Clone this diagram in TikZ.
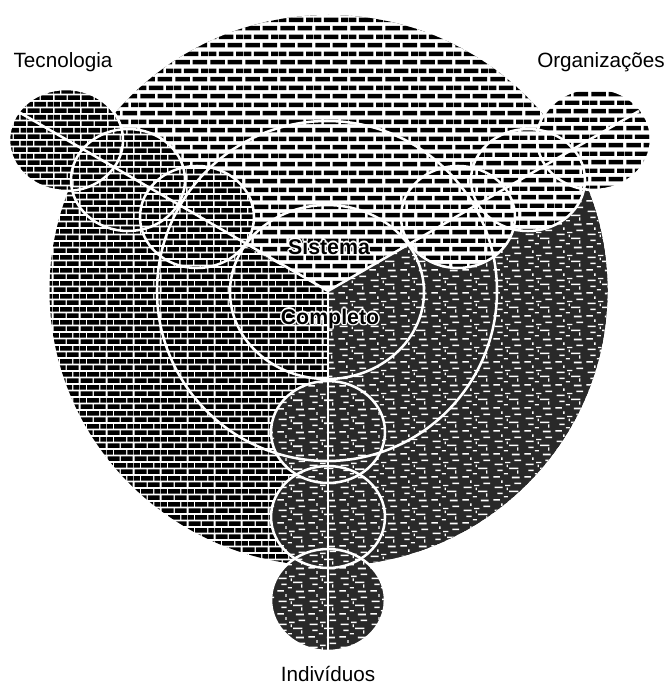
\documentclass[tikz,border=0pt]{standalone}
\usepackage{fontspec}
\setmainfont{Liberation Sans}
\usetikzlibrary{patterns}

\pgfdeclarepatternformonly{brickL}{\pgfpointorigin}{\pgfqpoint{26pt}{13pt}}{\pgfqpoint{26pt}{13pt}}{%
  \pgfpathrectangle{\pgfqpoint{1pt}{0.5pt}}{\pgfqpoint{11pt}{3.4pt}}%
  \pgfpathrectangle{\pgfqpoint{14pt}{0.5pt}}{\pgfqpoint{11pt}{3.4pt}}%
  \pgfpathrectangle{\pgfqpoint{0pt}{7pt}}{\pgfqpoint{5.5pt}{3.4pt}}%
  \pgfpathrectangle{\pgfqpoint{7.5pt}{7pt}}{\pgfqpoint{11pt}{3.4pt}}%
  \pgfpathrectangle{\pgfqpoint{20.5pt}{7pt}}{\pgfqpoint{5.5pt}{3.4pt}}%
  \pgfusepath{fill}}

\pgfdeclarepatternformonly{brickM}{\pgfpointorigin}{\pgfqpoint{20pt}{10pt}}{\pgfqpoint{20pt}{10pt}}{%
  \pgfpathrectangle{\pgfqpoint{0.5pt}{0pt}}{\pgfqpoint{9pt}{3.6pt}}%
  \pgfpathrectangle{\pgfqpoint{10.5pt}{0pt}}{\pgfqpoint{9pt}{3.6pt}}%
  \pgfpathrectangle{\pgfqpoint{0pt}{5pt}}{\pgfqpoint{4.5pt}{3.6pt}}%
  \pgfpathrectangle{\pgfqpoint{5.5pt}{5pt}}{\pgfqpoint{9pt}{3.6pt}}%
  \pgfpathrectangle{\pgfqpoint{15.5pt}{5pt}}{\pgfqpoint{4.5pt}{3.6pt}}%
  \pgfusepath{fill}}

\pgfdeclarepatternformonly{speckD}{\pgfpointorigin}{\pgfqpoint{23pt}{17pt}}{\pgfqpoint{23pt}{17pt}}{%
  \pgfpathrectangle{\pgfqpoint{1pt}{1pt}}{\pgfqpoint{5pt}{1.2pt}}%
  \pgfpathrectangle{\pgfqpoint{9pt}{3.5pt}}{\pgfqpoint{3pt}{1pt}}%
  \pgfpathrectangle{\pgfqpoint{15pt}{0.5pt}}{\pgfqpoint{6pt}{1.3pt}}%
  \pgfpathrectangle{\pgfqpoint{4pt}{6pt}}{\pgfqpoint{4pt}{1.1pt}}%
  \pgfpathrectangle{\pgfqpoint{13pt}{7.5pt}}{\pgfqpoint{7pt}{1.2pt}}%
  \pgfpathrectangle{\pgfqpoint{19pt}{4pt}}{\pgfqpoint{1pt}{2.5pt}}%
  \pgfpathrectangle{\pgfqpoint{2pt}{10.5pt}}{\pgfqpoint{6pt}{1.2pt}}%
  \pgfpathrectangle{\pgfqpoint{10pt}{12pt}}{\pgfqpoint{4pt}{1.1pt}}%
  \pgfpathrectangle{\pgfqpoint{17pt}{13.5pt}}{\pgfqpoint{5pt}{1.2pt}}%
  \pgfpathrectangle{\pgfqpoint{7pt}{14.5pt}}{\pgfqpoint{1pt}{2pt}}%
  \pgfpathrectangle{\pgfqpoint{11pt}{9pt}}{\pgfqpoint{1pt}{2pt}}%
  \pgfusepath{fill}}

\begin{document}
\begin{tikzpicture}[x=0.75pt,y=0.75pt,yscale=-1,
  regL/.style={preaction={fill=white}, pattern=brickL, pattern color=black},
  regM/.style={preaction={fill=white}, pattern=brickM, pattern color=black},
  regD/.style={preaction={fill=black!84}, pattern=speckD, pattern color=white},
  wl/.style={draw=white, line width=1.9pt},
  lab/.style={font=\fontsize{15.5}{18}\selectfont, text=black, inner sep=0pt, anchor=base},
  blab/.style={font=\fontsize{16}{19}\selectfont\bfseries, text=black, inner sep=0pt, anchor=base},
  chain/.style={x radius=57, y radius=51}]
\useasboundingbox (0,0) rectangle (671,684);
\fill[white] (0,0) rectangle (671,684);

\coordinate (C) at (328,291);
\coordinate (Tend) at (17,111);
\coordinate (Oend) at (639,111);
\coordinate (Iend) at (328,651);

% regions inside the big circle
\begin{scope}
  \clip (328.5,290.5) ellipse [x radius=279, y radius=275.5];
  \path[regM] (0,0) rectangle (671,684);
  \path[regD] (C) -- (328,720) -- (720,720) -- (720,64) -- cycle;
  \path[regL] (C) -- (720,64) -- (720,-20) -- (-20,-20) -- (-20,102) -- cycle;
\end{scope}

% chains of circles
\foreach \p in {(66,140),(128,180),(197,217)} \path[regM] \p ellipse [chain];
\foreach \p in {(594,139),(528,180),(458,217)} \path[regL] \p ellipse [chain];
\foreach \p in {(328,432),(328,517),(328,600)} \path[regD] \p ellipse [chain];

% white outlines
\draw[wl] (327,291) circle [radius=170];
\draw[wl] (327,292) ellipse [x radius=97, y radius=87];
\foreach \p in {(66,140),(128,180),(197,217),(594,139),(528,180),(458,217),(328,432),(328,517),(328,600)}
  \draw[wl] \p ellipse [chain];
\draw[wl] (C) -- (Tend);
\draw[wl] (C) -- (Oend);
\draw[wl] (C) -- (Iend);

% labels
\node[lab] (tec) at (63,68) {Tecnologia};
\node[lab] (org) at (601,68) {Organizações};
\node[lab] (ind) at (328,681) {Indivíduos};

\foreach \dx/\dy [count=\k] in {1.4/0,-1.4/0,0/1.4,0/-1.4,1/1,1/-1,-1/1,-1/-1} {
  \node[blab, text=white] (sh\k) at (329+\dx,254+\dy) {Sistema};
  \node[blab, text=white] (ch\k) at (330+\dx,324+\dy) {Completo};
}
\node[blab] (sis) at (329,254) {Sistema};
\node[blab] (comp) at (330,324) {Completo};
\end{tikzpicture}
\end{document}
